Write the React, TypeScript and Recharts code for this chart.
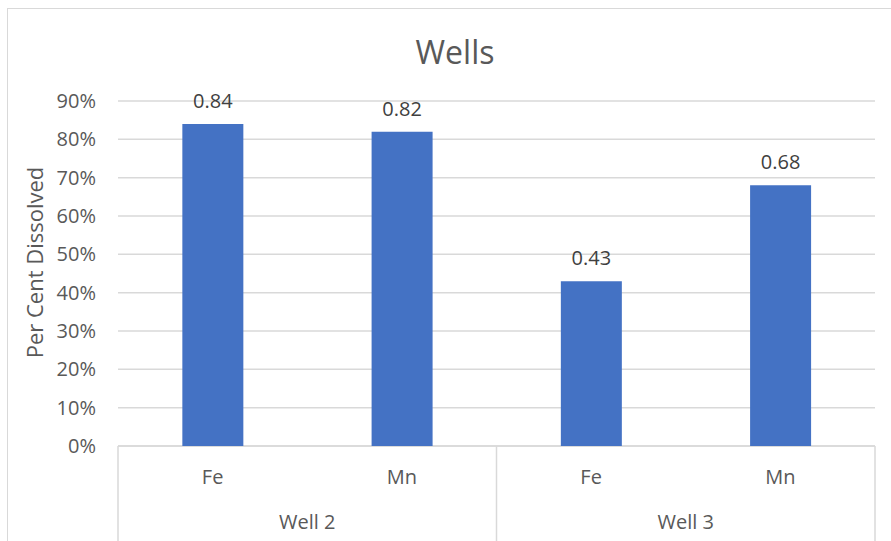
import { Bar, BarChart, CartesianGrid, LabelList, XAxis, YAxis, usePlotArea } from 'recharts';

const wells = ['Well 2', 'Well 2', 'Well 3', 'Well 3'];
const elements = ['Fe', 'Mn', 'Fe', 'Mn'];
const dissolved = [0.84, 0.82, 0.43, 0.68];
const yTicks = [0, 0.1, 0.2, 0.3, 0.4, 0.5, 0.6, 0.7, 0.8, 0.9];

const data = elements.map((el, i) => ({ key: `${wells[i]} ${el}`, element: el, well: wells[i], value: dissolved[i] }));
const groups = Array.from(new Set(wells));

const FONT = '"Open Sans", "Noto Sans", sans-serif';
const GRID = '#d9d9d9';
const TEXT = '#595959';

function GroupAxis() {
  const plot = usePlotArea();
  if (!plot) return null;
  const bottom = 541;
  const base = plot.y + plot.height;
  const gw = plot.width / groups.length;
  return (
    <g>
      <line x1={plot.x} x2={plot.x + plot.width} y1={base} y2={base} stroke={GRID} strokeWidth={1.5} />
      {Array.from({ length: groups.length + 1 }, (_, i) => (
        <line key={i} x1={plot.x + i * gw} x2={plot.x + i * gw} y1={base} y2={bottom} stroke={GRID} strokeWidth={1.5} />
      ))}
      {groups.map((g, i) => (
        <text key={g} x={plot.x + (i + 0.5) * gw} y={base + 83} textAnchor="middle" fontSize={20} fill={TEXT} fontFamily={FONT}>
          {g}
        </text>
      ))}
      <text
        transform={`translate(34, ${plot.y + plot.height / 2 - 11}) rotate(-90)`}
        textAnchor="middle"
        dominantBaseline="central"
        fontSize={22}
        fill={TEXT}
        fontFamily={FONT}
      >
        Per Cent Dissolved
      </text>
      <text x={455} y={64} textAnchor="middle" fontSize={32} fill={TEXT} fontFamily={FONT}>
        Wells
      </text>
    </g>
  );
}

export default function App() {
  return (
    <div style={{ position: 'absolute', left: 0, top: 0, width: 891, height: 541, background: '#fff', overflow: 'hidden' }}>
      <div
        style={{
          position: 'absolute',
          left: 7,
          top: 8,
          width: 900,
          height: 560,
          border: `1.5px solid ${GRID}`,
          boxSizing: 'border-box',
        }}
      />
      <BarChart
        width={891}
        height={541}
        data={data}
        margin={{ top: 101, right: 16, bottom: 0, left: 0 }}
        barCategoryGap="34%"
        style={{ position: 'absolute', left: 0, top: 0 }}
      >
        <CartesianGrid vertical={false} stroke={GRID} strokeWidth={1.5} />
        <XAxis
          dataKey="key"
          tickFormatter={(_, i) => elements[i]}
          axisLine={false}
          tickLine={false}
          tickSize={0}
          tickMargin={24}
          height={95}
          tick={{ fontSize: 20, fill: TEXT, fontFamily: FONT }}
          interval={0}
        />
        <YAxis
          width={118}
          domain={[0, 0.9]}
          ticks={yTicks}
          interval={0}
          tickFormatter={(v) => `${Math.round(v * 100)}%`}
          axisLine={false}
          tickLine={false}
          tickSize={0}
          tickMargin={22}
          tick={{ fontSize: 20, fill: TEXT, fontFamily: FONT }}
        />
        <Bar dataKey="value" fill="#4472c4" isAnimationActive={false}>
          <LabelList
            dataKey="value"
            position="top"
            offset={16}
            formatter={(v: number) => v.toFixed(2)}
            style={{ fontSize: 20, fill: '#404040', fontFamily: FONT }}
          />
        </Bar>
        <GroupAxis />
      </BarChart>
    </div>
  );
}
